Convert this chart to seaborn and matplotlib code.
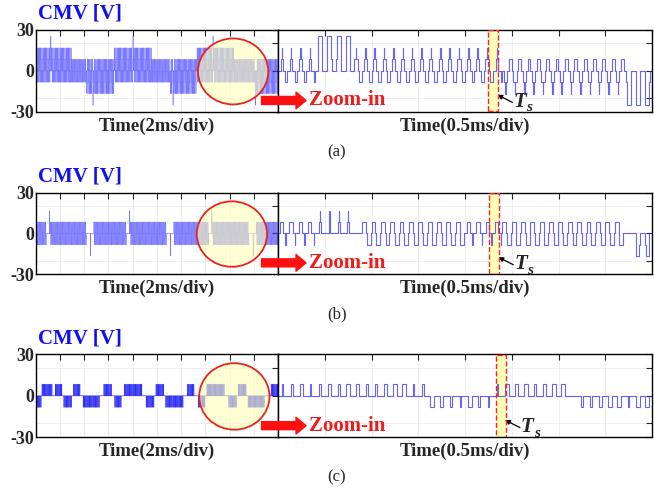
import numpy as np
import pandas as pd
import matplotlib
matplotlib.use('Agg')
import matplotlib.pyplot as plt
import seaborn as sns
from matplotlib.patches import Ellipse, Rectangle

# CMV step (Vdc/6) and switching period
V1 = 50 / 6
TS = 0.1  # ms

# one switching period = list of (level in V1 steps, fraction of Ts)
PATTERNS = {
    'A': [(0, .18), (1, .14), (2, .06), (1, .14), (0, .18), (-1, .30)],
    'a': [(0, .28), (1, .10), (2, .04), (1, .10), (0, .28), (-1, .20)],
    'C': [(0, .18), (-1, .14), (-2, .06), (-1, .14), (0, .18), (1, .30)],
    'T': [(0, .25), (1, .04), (3, .42), (1, .04), (0, .25)],
    'B': [(0, .25), (-1, .04), (-3, .42), (-1, .04), (0, .25)],
    'S': [(1, .42), (0, .08), (-1, .42), (0, .08)],
    'Q': [(0, .20), (1, .38), (0, .22), (-1, .06), (0, .14)],
    'P': [(0, .42), (1, .06), (2, .04), (1, .06), (0, .42)],
    'N': [(0, .42), (-1, .06), (-2, .04), (-1, .06), (0, .42)],
    'M': [(0, .30), (-1, .04), (-2, .32), (-1, .04), (0, .30)],
    'U': [(0, .30), (1, .40), (0, .30)],
    'u': [(0, .42), (1, .16), (0, .42)],
    'D': [(0, .30), (-1, .40), (0, .30)],
    'd': [(0, .42), (-1, .16), (0, .42)],
    'Z': [(0, 1.0)],
}

# (pattern, number of switching periods)
LEFT_A = [('A', 12), ('T', 1), ('A', 17), ('S', 12), ('C', 5), ('B', 1), ('C', 17),
          ('A', 15), ('T', 1), ('A', 15), ('S', 15), ('C', 2), ('B', 1), ('C', 19),
          ('A', 13), ('T', 1), ('A', 17), ('S', 17), ('B', 1), ('C', 18)]
RIGHT_A = [('a', 4), ('T', 4), ('A', 15), ('a', 1), ('C', 13), ('B', 3)]

LEFT_B = [('S', 9), ('Z', 2), ('P', 1), ('S', 30), ('Z', 3), ('N', 1), ('Z', 2),
          ('S', 27), ('Z', 2), ('P', 1), ('S', 30), ('Z', 3), ('N', 1), ('Z', 2),
          ('S', 29), ('Z', 2), ('P', 1), ('S', 30), ('Z', 3), ('N', 1), ('Z', 2), ('S', 18)]
RIGHT_B = [('Q', 4), ('P', 4), ('Z', 1), ('S', 11), ('Q', 4), ('S', 13), ('Z', 1), ('M', 2)]

LEFT_C = [('D', 5), ('U', 9), ('Z', 2), ('U', 6), ('Z', 1), ('D', 7), ('Z', 1), ('U', 6),
          ('Z', 2), ('D', 14), ('Z', 3), ('U', 7), ('Z', 2), ('D', 6), ('Z', 2), ('U', 15),
          ('Z', 3), ('D', 7), ('Z', 1), ('U', 7), ('Z', 1), ('D', 15), ('Z', 3), ('U', 6),
          ('Z', 3), ('D', 6), ('Z', 1), ('U', 15), ('Z', 3), ('D', 7), ('Z', 1), ('U', 7),
          ('Z', 1), ('D', 14), ('Z', 5), ('U', 6)]
RIGHT_C = [('u', 2), ('U', 1), ('u', 2), ('U', 1), ('u', 1), ('U', 2), ('u', 2), ('U', 3), ('u', 2),
           ('D', 2), ('d', 2), ('D', 1), ('d', 2), ('u', 1),
           ('U', 3), ('u', 1), ('U', 3), ('Z', 1),
           ('d', 2), ('D', 3), ('d', 1), ('D', 2)]

# Ts window start in the zoomed traces [ms]
TS_START = [2.25, 2.26, 2.33]
# zoom circle centre on the overview traces [ms]
CIRCLE_T = [16.3, 16.2, 16.4]

LEFT_XTICKS = [0, 2, 4, 6, 8, 10, 12, 14, 16, 18, 20]
RIGHT_XTICKS = [0, 0.5, 1, 1.5, 2, 2.5, 3, 3.5, 4]
YTICKS = [-30, -20, 0, 20, 30]
YTICKLABELS = ['-30', '', '0', '', '30']
PANEL_TAGS = ['(a)', '(b)', '(c)']

# axes rows in pixels (top, bottom) on a 654x488 canvas
ROWS = [(29.5, 112.0), (192.5, 274.3), (354.2, 437.3)]
W, H = 654, 488
SERIF = 'Liberation Serif'


def build_wave(runs):
    times, levels = [], []
    t0 = 0.0
    for code, n in runs:
        for _ in range(n):
            for lev, frac in PATTERNS[code]:
                times.append(t0)
                levels.append(lev * V1)
                t0 += frac * TS
    times.append(t0)
    levels.append(levels[-1])
    return pd.DataFrame({'t': times, 'v': levels})


def style_axes(ax, xticks, xlim, label, show_ylabels):
    ax.set_xlim(xlim)
    ax.set_ylim(-30, 30)
    ax.set_xticks(xticks)
    ax.set_xticklabels([])
    ax.set_yticks(YTICKS)
    if show_ylabels:
        ax.set_yticklabels(YTICKLABELS, fontsize=13, fontweight='bold', family=SERIF)
    else:
        ax.set_yticklabels([])
    ax.tick_params(direction='in', length=4, width=0.8, top=True, right=True, pad=1)
    ax.grid(True, color='#ececec', lw=0.6)
    ax.set_axisbelow(True)
    for s in ax.spines.values():
        s.set_linewidth(1.0)
        s.set_color('black')
    ax.set_xlabel(label, fontsize=13.5, fontweight='bold', family=SERIF, labelpad=3)
    ax.set_ylabel('')


sns.set_style('white')
plt.rcParams['font.family'] = [SERIF, 'DejaVu Sans']

fig = plt.figure(figsize=(W / 100, H / 100), dpi=100)

left_runs = [LEFT_A, LEFT_B, LEFT_C]
right_runs = [RIGHT_A, RIGHT_B, RIGHT_C]
left_colors = ['#3a3aff', '#3a3aff', '#0c0cf0']
left_alpha = [0.68, 0.68, 0.85]

for i, (top, bot) in enumerate(ROWS):
    h = (bot - top) / H
    y0 = 1 - bot / H
    axl = fig.add_axes([35.5 / W, y0, (278 - 35.5) / W, h])
    axr = fig.add_axes([278 / W, y0, (652 - 278) / W, h])

    # overview trace
    dl = build_wave(left_runs[i])
    sns.lineplot(data=dl, x='t', y='v', ax=axl, drawstyle='steps-post', estimator=None,
                 sort=False, color=left_colors[i], lw=0.4, alpha=left_alpha[i])
    style_axes(axl, LEFT_XTICKS, (0, 20), 'Time(2ms/div)', True)
    axl.add_patch(Ellipse((CIRCLE_T[i], -0.5), 5.8, 48, facecolor='#ffffb8', alpha=0.6,
                          edgecolor='none', zorder=3))
    axl.add_patch(Ellipse((CIRCLE_T[i], -0.5), 5.8, 48, facecolor='none',
                          edgecolor='#e8231f', lw=1.3, zorder=4))

    # zoomed trace
    dr = build_wave(right_runs[i])
    axr.add_patch(Rectangle((TS_START[i], -30), 0.107, 60, facecolor='#ffffb8',
                            edgecolor='none', zorder=0.6))
    sns.lineplot(data=dr, x='t', y='v', ax=axr, drawstyle='steps-post', estimator=None,
                 sort=False, color='#2b2bff', lw=0.8, alpha=0.72)
    axr.add_patch(Rectangle((TS_START[i], -29.6), 0.107, 59.2, facecolor='none',
                            edgecolor='#ff2020', ls='--', lw=1.0, zorder=4))
    style_axes(axr, RIGHT_XTICKS, (0, 4), 'Time(0.5ms/div)', False)

    # Ts marker
    bx = TS_START[i] + 0.107
    axr.annotate('', xy=(bx - 0.01, -17.5), xytext=(bx + 0.15, -23),
                 arrowprops=dict(arrowstyle='-|>', color='black', lw=0.9,
                                 mutation_scale=7, shrinkA=0, shrinkB=0))
    axr.text(bx + 0.16, -22.5, 'T', fontsize=15, fontweight='bold', fontstyle='italic',
             family=SERIF, ha='left', va='center', zorder=5)
    axr.text(bx + 0.30, -27.0, 's', fontsize=11, fontweight='bold', fontstyle='italic',
             family=SERIF, ha='left', va='center', zorder=5)

    # zoom-in arrow and label
    axr.annotate('', xy=(0.075, 0.14), xytext=(-0.044, 0.14), xycoords='axes fraction',
                 textcoords='axes fraction', annotation_clip=False,
                 arrowprops=dict(arrowstyle='simple,head_length=0.45,head_width=0.75,tail_width=0.36',
                                 color='#ff1010', mutation_scale=16, shrinkA=0, shrinkB=0))
    axr.text(0.082, 0.14, 'Zoom-in', transform=axr.transAxes, color='#ee1c1c',
             fontsize=15, fontweight='bold', family=SERIF, ha='left', va='center')

    # titles and panel tags
    fig.text(38 / W, 1 - (top - 16) / H, 'CMV [V]', color='#1010ee', fontsize=15,
             fontweight='bold', family=SERIF, ha='left', va='center')
    fig.text(337 / W, 1 - (bot + 40) / H, PANEL_TAGS[i], fontsize=12, family=SERIF,
             ha='center', va='center')

fig.savefig('out.png', dpi=100)
